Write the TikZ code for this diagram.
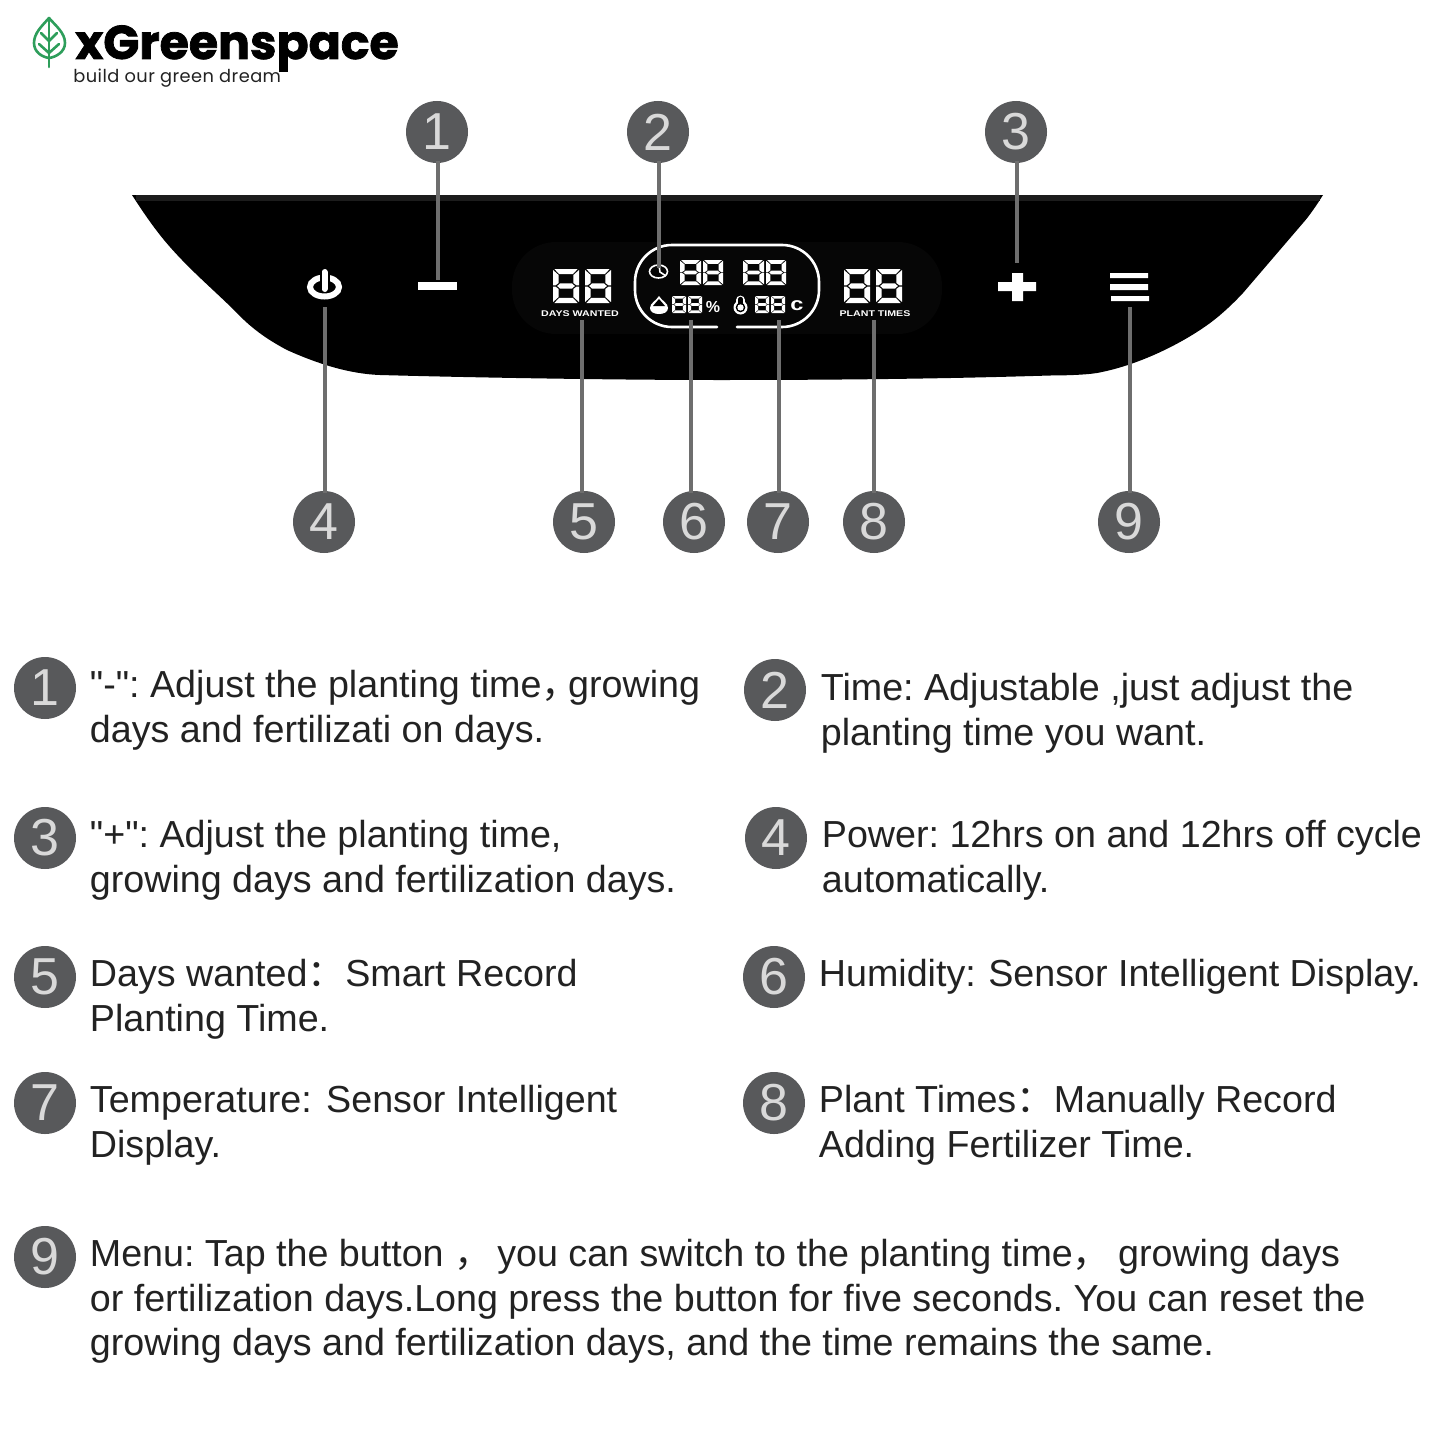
\documentclass[tikz,border=0pt]{standalone}
\usepackage{fontspec}
\setmainfont{Liberation Sans}
\newfontfamily\bodyfont{Liberation Sans}
\newfontfamily\widefont[FakeStretch=1.28]{Liberation Sans}
\newfontfamily\cjk{Noto Sans CJK SC}
\newfontfamily\logofont[BoldFeatures={FakeBold=1.6}]{Poppins}
\newfontfamily\slogfont[LetterSpace=2.5]{Poppins}
\usetikzlibrary{calc}
\definecolor{badge}{HTML}{58595B}
\definecolor{wire}{HTML}{6E6E6E}
\definecolor{ink}{HTML}{222222}
\definecolor{leaf}{HTML}{2E9E5B}
\definecolor{strip}{HTML}{1C1C1C}
\definecolor{halo}{HTML}{060606}
\tikzset{
  badge/.style={circle,fill=badge,minimum size=31pt,inner sep=0pt,text=white!85!black,font=\fontsize{26}{26}\selectfont},
  wirel/.style={draw=wire,line width=2pt,shorten <=-1pt},
  para/.style={anchor=north west,inner sep=0pt,align=left,text=ink,font=\bodyfont\fontsize{18.83}{22.4}\selectfont\frenchspacing},
  tiny/.style={text=white,inner sep=0pt,font=\widefont\fontsize{4.15}{6}\selectfont\bfseries},
  lcd/.style={fill=white},
}
\newcommand\segeight[4]{%
  \begin{scope}[shift={(#1,#2)},xscale=#3,yscale=#4]
    \fill[lcd] (.05,0)--(.95,0)--(.76,.15)--(.24,.15)--cycle
      (.05,1)--(.95,1)--(.76,.85)--(.24,.85)--cycle
      (.16,.5)--(.27,.425)--(.73,.425)--(.84,.5)--(.73,.575)--(.27,.575)--cycle
      (0,.03)--(.22,.18)--(.22,.41)--(.09,.485)--(0,.485)--cycle
      (0,.97)--(.22,.82)--(.22,.59)--(.09,.515)--(0,.515)--cycle
      (1,.03)--(.78,.18)--(.78,.41)--(.91,.485)--(1,.485)--cycle
      (1,.97)--(.78,.82)--(.78,.59)--(.91,.515)--(1,.515)--cycle;
  \end{scope}}
\begin{document}
\begin{tikzpicture}[x=0.5pt,y=-0.5pt]
\useasboundingbox (0,0) rectangle (1445,1445);
\fill[white] (0,0) rectangle (1445,1445);
% logo
\begin{scope}[draw=leaf,line width=1.3pt,line cap=round,line join=round]
  \draw (49,18) .. controls (42,26) and (34,33) .. (34,43) .. controls (34,52) and (42,57) .. (49,58) .. controls (56,57) and (65,52) .. (65,43) .. controls (65,33) and (56,26) .. (49,18) -- cycle;
  \draw (49,20) -- (49,67);
  \draw (41,33) -- (49,41) -- (57,33);
  \draw (39,44) -- (49,53) -- (59,44);
\end{scope}
\node[anchor=base west,inner sep=0pt,text=black] (logo) at (75,59) {\logofont\fontsize{23.7}{24}\selectfont\bfseries xGreenspace};
\node[anchor=base west,inner sep=0pt,text=ink] (slogan) at (73,83) {\slogfont\fontsize{8.9}{10}\selectfont build our green dream};
% panel
\fill[black] (132,195) -- (1323,195)
  .. controls (1316,206) and (1310,215) .. (1303,223)
  -- (1243,293) .. controls (1228,309) and (1215,320) .. (1203,328)
  .. controls (1175,347) and (1135,366) .. (1097,373)
  .. controls (1085,375) and (1062,375.5) .. (1050,375.5)
  .. controls (1000,377) and (900,380) .. (720,380)
  .. controls (600,380) and (450,377) .. (380,375)
  .. controls (350,374) and (318,364) .. (287,350)
  .. controls (270,341) and (253,330) .. (237,313)
  .. controls (215,291) and (192,272) .. (170,247)
  .. controls (155,230) and (143,212) .. (132,195) -- cycle;
\fill[strip] (136,195) rectangle (1320,201);
\fill[halo,rounded corners=22pt] (512,242) rectangle (942,334);
% display frame
\draw[white,line width=1.3pt,line cap=round] (717,327) -- (672,327) arc[start angle=90,end angle=180,radius=37] -- (635,282) arc[start angle=180,end angle=270,radius=37] -- (782,245) arc[start angle=270,end angle=360,radius=37] -- (819,290) arc[start angle=0,end angle=90,radius=37] -- (737,327);
% digits
\segeight{553}{269}{26}{34}\segeight{585}{269}{26}{34}
\segeight{844}{269}{26}{34}\segeight{876}{269}{26}{34}
\segeight{680}{260}{21}{25}\segeight{703}{260}{20}{25}
\segeight{743}{260}{21}{25}\segeight{766}{260}{20}{25}
\segeight{672}{296}{14}{17}\segeight{688}{296}{14}{17}
\segeight{755}{296}{14}{17}\segeight{771}{296}{14}{17}
\node[tiny] (daysw) at (580,314) {DAYS WANTED};
\node[tiny] (plantt) at (875,314) {PLANT TIMES};
\node[text=white,inner sep=0pt,font=\fontsize{8}{8}\selectfont\bfseries] (pct) at (713,307) {\%};
\node[text=white,inner sep=0pt,font=\widefont\fontsize{9.2}{10}\selectfont\bfseries] (cel) at (797,306) {c};
% clock icon
\draw[white,line width=.8pt] (658.5,271.5) ellipse[x radius=9,y radius=6.5];
\draw[white,line width=.8pt] (659,265) -- (660,272) -- (666,276);
% droplet
\fill[white] (659,296) .. controls (662,301) and (668,303) .. (668,308) .. controls (668,312) and (664,314) .. (659,314) .. controls (654,314) and (650,312) .. (650,308) .. controls (650,303) and (656,301) .. (659,296) -- cycle;
\fill[black] (659,299) .. controls (661,302) and (664,304) .. (665,306) -- (653,306) .. controls (654,304) and (657,302) .. (659,299) -- cycle;
% thermometer
\draw[white,line width=4.4pt,line cap=round] (740.5,300) -- (740.5,307);
\fill[white] (740.5,307.5) circle[radius=7];
\draw[black,line width=2.2pt,line cap=round] (740.5,299) -- (740.5,306);
\fill[black] (740.5,307.5) circle[radius=4.8];
\fill[white] (740.5,307.5) circle[radius=3.2];
% power icon
\draw[white,line width=3pt] (324.5,287) ellipse[x radius=14.5,y radius=9.5];
\draw[black,line width=5pt] (324.5,268) -- (324.5,288);
\draw[white,line width=3pt,line cap=round] (324.5,272) -- (324.5,289);
% minus, plus, menu
\fill[white] (418,282) rectangle (457,290);
\fill[white] (998,282) rectangle (1036,291) (1012,273) rectangle (1023,301);
\fill[white] (1110,273) rectangle (1148,278) (1110,284) rectangle (1148,290) (1111,296) rectangle (1149,301);
% callout badges
\node[badge] (c1) at (437,132) {1};
\node[badge] (c2) at (658,132) {2};
\node[badge] (c3) at (1016,132) {3};
\node[badge] (c4) at (324,522) {4};
\node[badge] (c5) at (584,522) {5};
\node[badge] (c6) at (694,522) {6};
\node[badge] (c7) at (778,522) {7};
\node[badge] (c8) at (874,522) {8};
\node[badge] (c9) at (1129,522) {9};
\coordinate (t1) at (438,280);
\coordinate (t2) at (659,268);
\coordinate (t3) at (1017,263);
\coordinate (t4) at (325,307);
\coordinate (t5) at (582,320);
\coordinate (t6) at (691,320);
\coordinate (t7) at (779,320);
\coordinate (t8) at (874,320);
\coordinate (t9) at (1130,307);
\foreach \n in {1,2,3} \draw[wirel] (t\n |- c\n.south) -- (t\n);
\foreach \n in {4,...,9} \draw[wirel] (t\n |- c\n.north) -- (t\n);
% legend
\node[badge] (l1) at (45,688) {1};
\node[badge] (l2) at (775,690) {2};
\node[badge] (l3) at (45,838) {3};
\node[badge] (l4) at (776,838) {4};
\node[badge] (l5) at (45,977) {5};
\node[badge] (l6) at (774,977) {6};
\node[badge] (l7) at (45,1103) {7};
\node[badge] (l8) at (774,1103) {8};
\node[badge] (l9) at (45,1257) {9};
\node[para] (p1) at (89.5,665.6) {\strut"-": Adjust the planting time{\cjk ，}\hspace{-5.5pt}growing\\days and fertilizati on days.};
\node[para] (p2) at (820.5,668.6) {\strut Time: Adjustable ,just adjust the\\planting time you want.};
\node[para] (p3) at (89.5,815.6) {\strut"+": Adjust the planting time,\\growing days and fertilization days.};
\node[para] (p4) at (821.5,815.6) {\strut Power: 12hrs on and 12hrs off cycle\\automatically.};
\node[para] (p5) at (89.5,954.6) {\strut Days wanted{\cjk ：}Smart Record\\Planting Time.};
\node[para] (p6) at (818.5,954.6) {\strut Humidity:\hspace{1pt} Sensor Intelligent Display.};
\node[para] (p7) at (89.5,1080.6) {\strut Temperature:\hspace{2pt} Sensor Intelligent\\Display.};
\node[para] (p8) at (818.5,1080.6) {\strut Plant Times{\cjk ：}Manually Record\\Adding Fertilizer Time.};
\node[para] (p9) at (89.5,1234.6) {\strut Menu: Tap the button {\cjk ，}\hspace{-2.5pt} you can switch to the planting time{\cjk ，}\hspace{-1.5pt} growing days\\or fertilization days.Long press the button for five seconds. You can reset the\\growing days and fertilization days, and the time remains the same.};
\end{tikzpicture}
\end{document}
